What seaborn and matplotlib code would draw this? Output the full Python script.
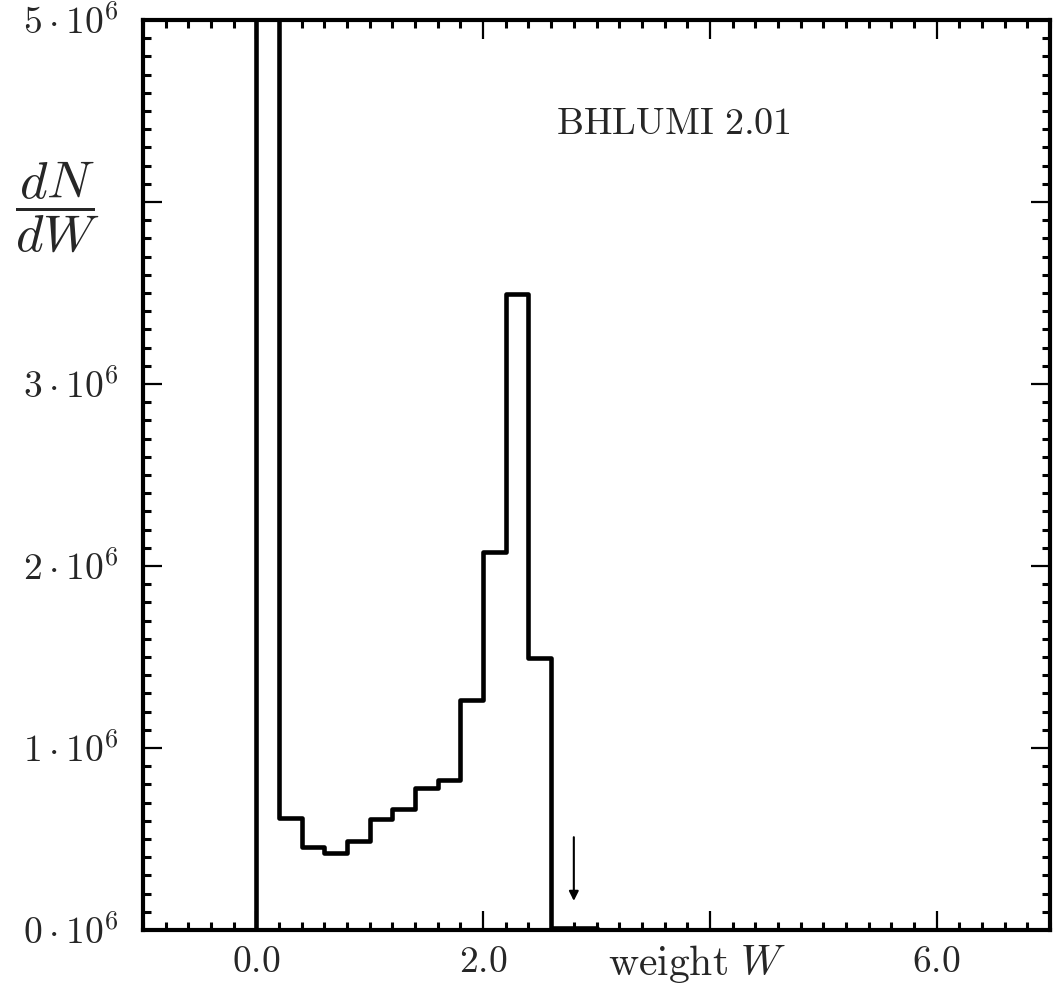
import numpy as np
import pandas as pd
import matplotlib
matplotlib.use("Agg")
import matplotlib.pyplot as plt
from matplotlib.ticker import MultipleLocator, FixedLocator, FixedFormatter
import seaborn as sns

# histogram of event weights, bins of width 0.2 from 0 to 3
bin_edges = [0.0, 0.2, 0.4, 0.6, 0.8, 1.0, 1.2, 1.4, 1.6, 1.8, 2.0, 2.2, 2.4, 2.6, 2.8, 3.0]
counts = [3.0e7, 0.615e6, 0.456e6, 0.423e6, 0.489e6, 0.61e6, 0.665e6, 0.78e6,
          0.824e6, 1.264e6, 2.077e6, 3.495e6, 1.495e6, 0.012e6, 0.012e6]
y_ticks = [0, 1e6, 2e6, 3e6, 4e6, 5e6]
y_tick_labels = [r"$0\cdot10^6$", r"$1\cdot10^6$", r"$2\cdot10^6$", r"$3\cdot10^6$", "", r"$5\cdot10^6$"]
x_ticks = [0, 2, 4, 6]
x_tick_labels = [r"$0.0$", r"$2.0$", "", r"$6.0$"]
max_weight = 2.8

sns.set_style("ticks")
plt.rcParams["mathtext.fontset"] = "cm"
plt.rcParams["font.family"] = ["DejaVu Serif"]

df = pd.DataFrame({
    "w": [(a + b) / 2 for a, b in zip(bin_edges[:-1], bin_edges[1:])],
    "n": counts,
})

fig = plt.figure(figsize=(10.57, 9.91), dpi=100)
ax = fig.add_axes([143 / 1057, 61 / 991, 907 / 1057, 910 / 991])

# filled step with no face colour so the outer edges (x=0) are drawn too
sns.histplot(data=df, x="w", weights="n", bins=bin_edges, element="step",
             fill=True, color="black", facecolor="none", edgecolor="black",
             linewidth=3.3, ax=ax)

ax.set_xlim(-1, 7)
ax.set_ylim(0, 5e6)

ax.xaxis.set_major_locator(FixedLocator(x_ticks))
ax.xaxis.set_major_formatter(FixedFormatter(x_tick_labels))
ax.xaxis.set_minor_locator(MultipleLocator(0.2))
ax.yaxis.set_major_locator(FixedLocator(y_ticks))
ax.yaxis.set_major_formatter(FixedFormatter(y_tick_labels))
ax.yaxis.set_minor_locator(MultipleLocator(1e5))

ax.tick_params(which="both", direction="in", top=True, right=True, color="black")
ax.tick_params(which="major", length=14, width=1.6, labelsize=27, pad=10)
ax.tick_params(axis="y", which="major", pad=18)
ax.tick_params(which="minor", length=6, width=2.2)
for s in ax.spines.values():
    s.set_linewidth(3)
    s.set_color("black")

ax.set_xlabel("")
ax.set_ylabel("")

# x-axis label sits where the 4.0 tick label would be
ax.text(3.885, -0.0495, r"$\mathrm{weight}\ W$", fontsize=30, ha="center", va="baseline",
        transform=ax.get_xaxis_transform())

ax.text(3.68, 4.43e6, r"$\mathrm{BHLUMI\ 2.01}$", fontsize=27.5, ha="center", va="center")
ax.annotate("", xy=(max_weight, 0.16e6), xytext=(max_weight, 0.51e6),
            arrowprops=dict(arrowstyle="-|>", color="black", lw=1.5,
                            mutation_scale=14, shrinkA=0, shrinkB=0))

fig.text(57 / 1057, 1 - 207 / 991, r"$\dfrac{dN}{dW}$", fontsize=38, ha="center", va="center")

fig.savefig("out.png", dpi=100)
